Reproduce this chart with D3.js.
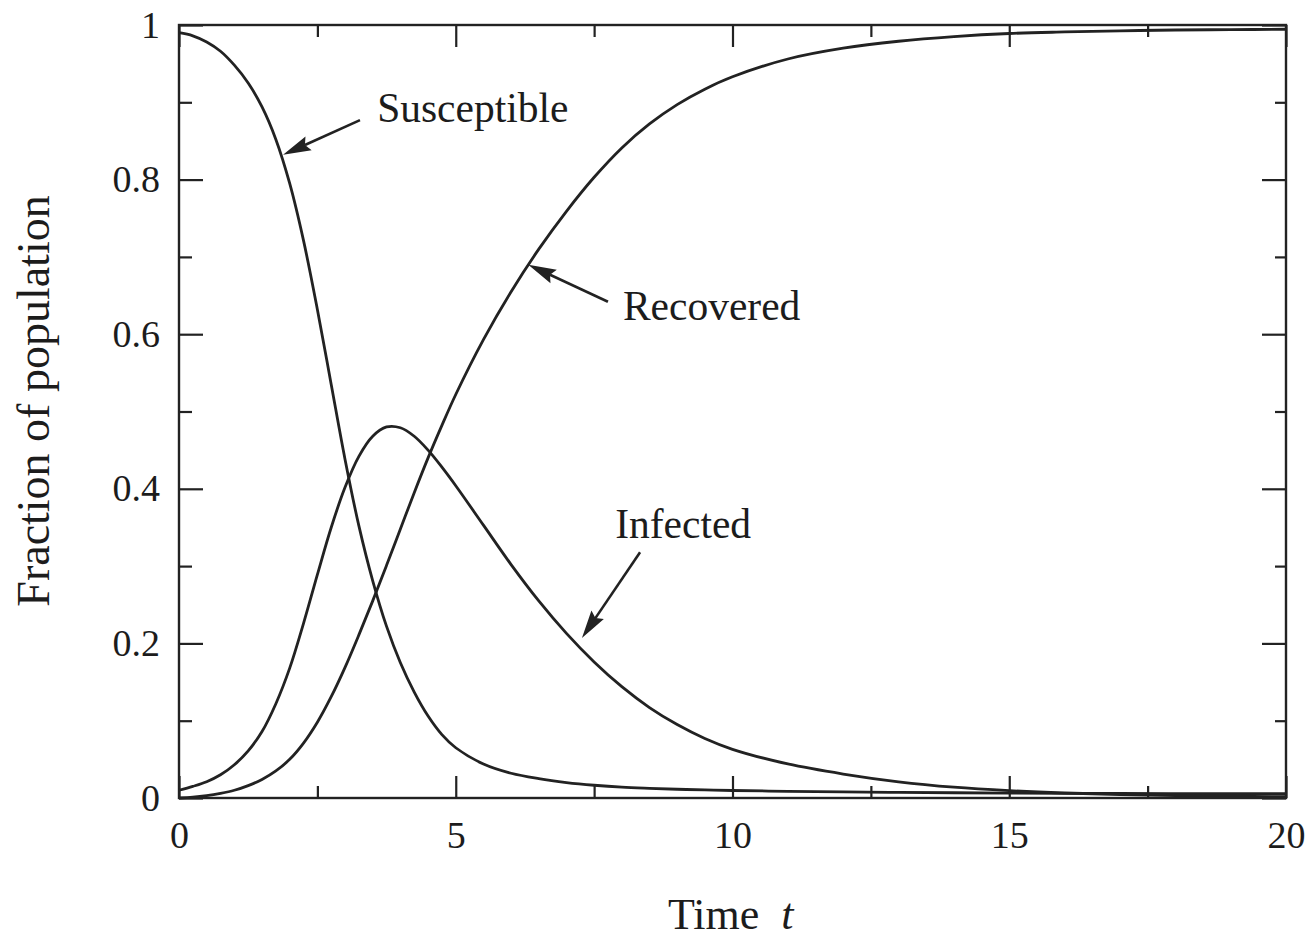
<!DOCTYPE html>
<html>
<head>
<meta charset="utf-8">
<script src="https://cdn.jsdelivr.net/npm/d3@7"></script>
<style>
  html, body { margin: 0; padding: 0; background: #ffffff; }
  svg { display: block; }
  text { font-family: "Liberation Serif", "Times New Roman", serif; fill: #1c1c1c; }
</style>
</head>
<body>
<svg id="chart" width="1314" height="941"></svg>
<script>
// SIR epidemic: fraction of the population in each compartment over time
const times = [0, 0.25, 0.5, 0.75, 1, 1.25, 1.5, 1.75, 2, 2.25, 2.5, 2.75, 3, 3.25, 3.5, 3.75,
               4, 4.25, 4.5, 4.75, 5,
               5.5, 6, 6.5, 7, 7.5, 8, 8.5, 9, 9.5, 10,
               11, 12, 13, 14, 15, 16, 17, 18, 19, 20];
const susceptible = [0.990, 0.986, 0.978, 0.966, 0.948, 0.925, 0.894, 0.852, 0.795, 0.721,
                     0.632, 0.535, 0.438, 0.352, 0.281, 0.222,
                     0.175, 0.137, 0.106, 0.082, 0.065,
                     0.044, 0.032, 0.025, 0.0200, 0.0165, 0.0140, 0.0125, 0.0113, 0.0104, 0.0097,
                     0.0087, 0.0079, 0.0073, 0.0068, 0.0064, 0.0061, 0.0059, 0.0057, 0.0056, 0.0055];
const infected = [0.010, 0.015, 0.021, 0.030, 0.043, 0.061, 0.086, 0.122, 0.168, 0.226,
                  0.289, 0.350, 0.402, 0.442, 0.468, 0.480,
                  0.479, 0.468, 0.450, 0.428, 0.404,
                  0.353, 0.302, 0.255, 0.213, 0.176, 0.144, 0.117, 0.095, 0.077, 0.063,
                  0.044, 0.031, 0.021, 0.014, 0.0095, 0.0065, 0.0045, 0.0032, 0.0023, 0.0017];
const recovered = [0.000, 0.001, 0.003, 0.006, 0.010, 0.016, 0.024, 0.035, 0.050, 0.071,
                   0.098, 0.131, 0.169, 0.211, 0.255, 0.301,
                   0.348, 0.395, 0.440, 0.482, 0.522,
                   0.593, 0.655, 0.710, 0.759, 0.803, 0.841, 0.872, 0.897, 0.917, 0.933,
                   0.956, 0.970, 0.979, 0.985, 0.989, 0.991, 0.9925, 0.9935, 0.994, 0.9945];

const xMajorTicks = [0, 5, 10, 15, 20];
const xMinorTicks = [2.5, 7.5, 12.5, 17.5];
const yMajorTicks = [0, 0.2, 0.4, 0.6, 0.8, 1];
const yMinorTicks = [0.1, 0.3, 0.5, 0.7, 0.9];

// Labels with arrows: text anchor, arrow tail and arrow head in data units
const annotations = [
  { label: "Susceptible", text: [3.58, 0.875], tail: [3.27, 0.877], head: [1.88, 0.832] },
  { label: "Recovered",   text: [8.02, 0.618], tail: [7.75, 0.642], head: [6.31, 0.690] },
  { label: "Infected",    text: [7.88, 0.336], tail: [8.33, 0.318], head: [7.28, 0.207] }
];

const margin = { left: 179, top: 25, right: 28, bottom: 143 };
const W = 1314, H = 941;
const width = W - margin.left - margin.right;
const height = H - margin.top - margin.bottom;

const svg = d3.select("#chart");
const g = svg.append("g").attr("transform", `translate(${margin.left},${margin.top})`);

const x = d3.scaleLinear().domain([0, 20]).range([0, width]);
const y = d3.scaleLinear().domain([0, 1]).range([height, 0]);

const ink = "#222222";

// Curves
const series = [susceptible, infected, recovered];
const line = d3.line()
  .x((d, i) => x(times[i]))
  .y(d => y(d))
  .curve(d3.curveCatmullRom.alpha(0.5));

g.selectAll("path.series")
  .data(series)
  .join("path")
  .attr("class", "series")
  .attr("d", line)
  .attr("fill", "none")
  .attr("stroke", ink)
  .attr("stroke-width", 2.8)
  .attr("stroke-linejoin", "round");

// Axes: ticks drawn inward on all four sides
function styleAxis(sel) {
  sel.select(".domain").remove();
  sel.selectAll(".tick line").attr("stroke", ink).attr("stroke-width", 2.2);
  sel.selectAll(".tick text").attr("font-size", 38).attr("fill", "#1c1c1c")
     .attr("font-family", "Liberation Serif, Times New Roman, serif");
}

g.append("g").attr("transform", `translate(0,${height})`)
  .call(d3.axisBottom(x).tickValues(xMajorTicks).tickSize(-22).tickPadding(23)
        .tickFormat(d3.format("d")))
  .call(styleAxis);
g.append("g").attr("transform", `translate(0,${height})`)
  .call(d3.axisBottom(x).tickValues(xMinorTicks).tickSize(-12).tickFormat(""))
  .call(styleAxis);
g.append("g")
  .call(d3.axisTop(x).tickValues(xMajorTicks).tickSize(-22).tickFormat(""))
  .call(styleAxis);
g.append("g")
  .call(d3.axisTop(x).tickValues(xMinorTicks).tickSize(-12).tickFormat(""))
  .call(styleAxis);

g.append("g")
  .call(d3.axisLeft(y).tickValues(yMajorTicks).tickSize(-24).tickPadding(19)
        .tickFormat(d => d === 0 || d === 1 ? String(d) : d3.format(".1f")(d)))
  .call(styleAxis);
g.append("g")
  .call(d3.axisLeft(y).tickValues(yMinorTicks).tickSize(-13).tickFormat(""))
  .call(styleAxis);
g.append("g").attr("transform", `translate(${width},0)`)
  .call(d3.axisRight(y).tickValues(yMajorTicks).tickSize(-24).tickFormat(""))
  .call(styleAxis);
g.append("g").attr("transform", `translate(${width},0)`)
  .call(d3.axisRight(y).tickValues(yMinorTicks).tickSize(-11).tickFormat(""))
  .call(styleAxis);

// Frame
g.append("rect")
  .attr("x", 0).attr("y", 0)
  .attr("width", width).attr("height", height)
  .attr("fill", "none")
  .attr("stroke", ink)
  .attr("stroke-width", 2.4);

// Annotations
annotations.forEach(a => {
  const x1 = x(a.tail[0]), y1 = y(a.tail[1]);
  const x2 = x(a.head[0]), y2 = y(a.head[1]);
  const ang = Math.atan2(y2 - y1, x2 - x1);
  const headLen = 28, headHalf = 7.5;
  const bx = x2 - headLen * Math.cos(ang), by = y2 - headLen * Math.sin(ang);
  g.append("line")
    .attr("x1", x1).attr("y1", y1)
    .attr("x2", bx + 4 * Math.cos(ang)).attr("y2", by + 4 * Math.sin(ang))
    .attr("stroke", ink).attr("stroke-width", 2.6);
  const nx = -Math.sin(ang), ny = Math.cos(ang);
  const notch = 4;
  const pts = [
    [x2, y2],
    [bx + headHalf * nx, by + headHalf * ny],
    [bx + notch * Math.cos(ang), by + notch * Math.sin(ang)],
    [bx - headHalf * nx, by - headHalf * ny]
  ];
  g.append("polygon")
    .attr("points", pts.map(p => p.join(",")).join(" "))
    .attr("fill", ink);
  g.append("text")
    .attr("x", x(a.text[0]))
    .attr("y", y(a.text[1]))
    .attr("font-size", 41.5)
    .text(a.label);
});

// Axis titles
svg.append("text")
  .attr("transform", `translate(49,401) rotate(-90)`)
  .attr("text-anchor", "middle")
  .attr("font-size", 46)
  .text("Fraction of population");

const xt = svg.append("text")
  .attr("x", 668)
  .attr("y", 929)
  .attr("font-size", 44);
xt.append("tspan").text("Time\u00a0\u00a0");
xt.append("tspan").attr("font-style", "italic").text("t");
</script>
</body>
</html>
